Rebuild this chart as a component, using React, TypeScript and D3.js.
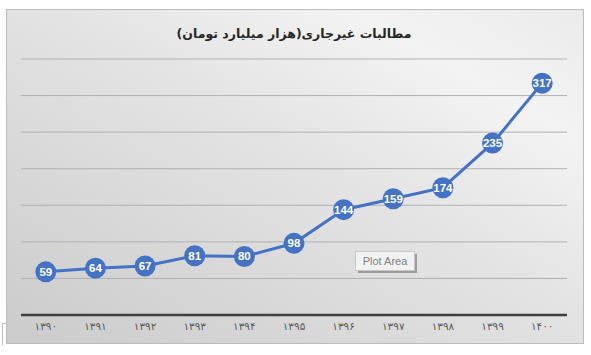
import React from "react";
import * as d3 from "d3";

const years = ["۱۳۹۰", "۱۳۹۱", "۱۳۹۲", "۱۳۹۳", "۱۳۹۴", "۱۳۹۵", "۱۳۹۶", "۱۳۹۷", "۱۳۹۸", "۱۳۹۹", "۱۴۰۰"];
const values = [59, 64, 67, 81, 80, 98, 144, 159, 174, 235, 317];
const yTicks = [0, 50, 100, 150, 200, 250, 300, 350];
const title = "مطالبات غیرجاری(هزار میلیارد تومان)";

export default function App() {
  const W = 591, H = 355;
  const x = d3.scaleBand<string>().domain(years).range([21, 567]).padding(0);
  const y = d3.scaleLinear().domain([0, 350]).range([315, 59]);
  const cx = (i: number) => (x(years[i]) as number) + x.bandwidth() / 2;
  const line = d3.line<number>().x((_, i) => cx(i)).y((d) => y(d));
  const blue = "#4472C4";
  return (
    <svg width={W} height={H} style={{ position: "absolute", left: 0, top: 0 }}>
      <defs>
        <linearGradient id="bg" x1="0" y1="1" x2="1" y2="0">
          <stop offset="0" stopColor="#cbcbcb" />
          <stop offset="0.55" stopColor="#e4e4e4" />
          <stop offset="0.8" stopColor="#f3f3f3" />
          <stop offset="1" stopColor="#ebebeb" />
        </linearGradient>
      </defs>
      <rect x={0} y={0} width={W} height={H} fill="#ffffff" />
      <rect x={6.5} y={9.5} width={577} height={334} fill="url(#bg)" stroke="#bcbcbc" strokeWidth={1} />
      <path d="M2.5,345 L2.5,323.5 L6,323.5" fill="none" stroke="#bdbdbd" strokeWidth={1} />
      <text x={294} y={38} textAnchor="middle" fontFamily="DejaVu Sans" fontWeight="bold" fontSize={12.5} fill="#262626">{title}</text>
      {yTicks.slice(1).map((t) => (
        <line key={t} x1={21} x2={567} y1={y(t)} y2={y(t)} stroke="#b0b0b0" strokeWidth={1} />
      ))}
      <line x1={21} x2={567} y1={y(0)} y2={y(0)} stroke="#3f3f3f" strokeWidth={2.5} />
      {years.map((yr, i) => (
        <text key={yr} x={cx(i)} y={330} textAnchor="middle" fontFamily="DejaVu Sans" fontSize={10.5} letterSpacing={1} fill="#595959">{yr}</text>
      ))}
      <g>
        <rect x={358} y={254} width={59} height={19} fill="#6f6f6f" opacity={0.6} />
        <rect x={355.5} y={251.5} width={59} height={19} fill="#f2f2f2" stroke="#c8c8c8" strokeWidth={1} />
        <text x={385} y={265} textAnchor="middle" fontFamily="Liberation Sans" fontSize={11} fill="#7f7f7f">Plot Area</text>
      </g>
      <path d={line(values) || ""} fill="none" stroke={blue} strokeWidth={3} />
      {values.map((v, i) => (
        <g key={i}>
          <circle cx={cx(i)} cy={y(v)} r={10.5} fill={blue} />
          <text x={cx(i)} y={y(v) + 4} textAnchor="middle" fontFamily="Liberation Sans" fontWeight="bold" fontSize={11.5} fill="#ffffff">{v}</text>
        </g>
      ))}
    </svg>
  );
}
